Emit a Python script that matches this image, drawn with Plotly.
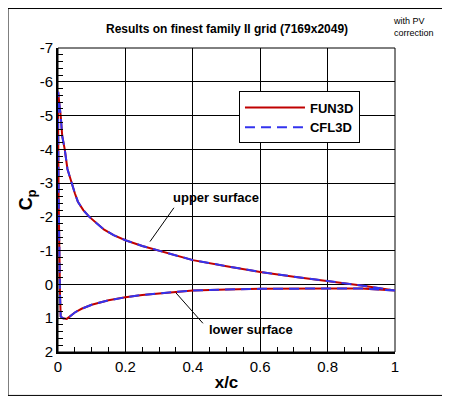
import plotly.graph_objects as go

# Cp around the airfoil: lower surface TE -> LE, then upper surface LE -> TE
x_lower = [1.0, 0.93, 0.9, 0.8, 0.7, 0.6, 0.5, 0.4, 0.35, 0.3, 0.25, 0.2, 0.15,
           0.1, 0.07, 0.05, 0.04, 0.026, 0.015, 0.008, 0.006, 0.004, 0.002, 0.0]
cp_lower = [0.18, 0.15, 0.12, 0.12, 0.12, 0.13, 0.15, 0.18, 0.22, 0.26, 0.31, 0.38, 0.47,
            0.6, 0.72, 0.83, 0.92, 1.02, 1.0, 0.95, 0.3, -0.6, -2.5, -5.4]
x_upper = [0.0005, 0.002, 0.005, 0.008, 0.0125, 0.02, 0.028, 0.04, 0.05, 0.059, 0.075,
           0.093, 0.115, 0.137, 0.165, 0.2, 0.25, 0.3, 0.4, 0.5, 0.6, 0.7, 0.8, 0.9, 1.0]
cp_upper = [-5.7, -5.55, -5.25, -5.0, -4.4, -4.0, -3.42, -3.0, -2.7, -2.45, -2.2,
            -2.0, -1.8, -1.62, -1.46, -1.31, -1.14, -1.0, -0.72, -0.54, -0.37, -0.23,
            -0.11, 0.03, 0.18]

x_all = x_lower + x_upper
cp_all = cp_lower + cp_upper

# tick labels (plain hyphen minus like the original)
y_ticks = [-7, -6, -5, -4, -3, -2, -1, 0, 1, 2]
y_labels = ["-7", "-6", "-5", "-4", "-3", "-2", "-1", "0", "1", "2"]
x_ticks = [0, 0.2, 0.4, 0.6, 0.8, 1]
x_labels = ["0", "0.2", "0.4", "0.6", "0.8", "1"]

FONT = "Liberation Sans, Arial, sans-serif"

fig = go.Figure()
fig.add_trace(go.Scatter(x=x_all, y=cp_all, mode="lines", name="<b>FUN3D</b>",
                         line=dict(color="#c00000", width=2)))
fig.add_trace(go.Scatter(x=x_all, y=cp_all, mode="lines", name="<b>CFL3D</b>",
                         line=dict(color="#3333ee", width=2, dash="10px,6px")))

axis_common = dict(
    showline=True, linecolor="black", linewidth=2, mirror=False,
    showgrid=True, gridcolor="black", gridwidth=1,
    ticks="inside", ticklen=8, tickcolor="black",
    zeroline=False,
    tickfont=dict(family=FONT, size=15, color="black"),
)

fig.update_xaxes(range=[0, 1], tickvals=x_ticks, ticktext=x_labels,
                 minor=dict(dtick=0.05, ticks="inside", ticklen=5, tickcolor="black", showgrid=False),
                 title=dict(text="<b>x/c</b>", font=dict(family=FONT, size=17, color="black"), standoff=2),
                 **axis_common)
fig.update_yaxes(range=[2, -7], tickvals=y_ticks, ticktext=y_labels,
                 minor=dict(dtick=0.2, ticks="inside", ticklen=5, tickcolor="black", showgrid=False),
                 title=dict(text="<b>C<sub>p</sub></b>", font=dict(family=FONT, size=18, color="black"), standoff=2),
                 **axis_common)

fig.add_annotation(x=0.469, y=-2.56, xref="x", yref="y", text="<b>upper surface</b>",
                   showarrow=False, font=dict(family=FONT, size=13, color="black"))
fig.add_annotation(x=0.573, y=1.33, xref="x", yref="y", text="<b>lower surface</b>",
                   showarrow=False, font=dict(family=FONT, size=13, color="black"))

fig.add_annotation(x=0.5, y=1.0, xref="paper", yref="paper", yshift=10,
                   text="<b>Results on finest family II grid (7169x2049)</b>", showarrow=False,
                   font=dict(family=FONT, size=12, color="black"), yanchor="bottom")
fig.add_annotation(x=1.0, y=1.0, xref="paper", yref="paper", xshift=-4, yshift=8,
                   text="with PV<br>correction", showarrow=False, align="left",
                   xanchor="left", yanchor="bottom",
                   font=dict(family=FONT, size=9, color="black"))

fig.update_layout(
    width=442, height=393,
    margin=dict(l=50, r=55, t=40, b=45),
    paper_bgcolor="white", plot_bgcolor="white",
    showlegend=True,
    legend=dict(x=0.537, y=0.857, xanchor="left", yanchor="top",
                bgcolor="white", bordercolor="black", borderwidth=1,
                font=dict(family=FONT, size=13, color="black"),
                itemwidth=60, tracegroupgap=0),
    shapes=[
        # leader lines
        dict(type="line", xref="x", yref="y", x0=0.344, y0=-2.27, x1=0.273, y1=-1.27,
             line=dict(color="black", width=1)),
        dict(type="line", xref="x", yref="y", x0=0.350, y0=0.25, x1=0.430, y1=1.15,
             line=dict(color="black", width=1)),
        # thin frame on top/right of plot area
        dict(type="rect", xref="paper", yref="paper", x0=0, x1=1, y0=0, y1=1,
             line=dict(color="black", width=1), layer="below"),
        # outer border of the picture
        dict(type="rect", xref="paper", yref="paper", x0=-50 / 337, x1=1 + 54 / 337,
             y0=-44 / 308, y1=1 + 40 / 308, line=dict(color="black", width=1)),
    ],
)

fig.write_html("out.html")
